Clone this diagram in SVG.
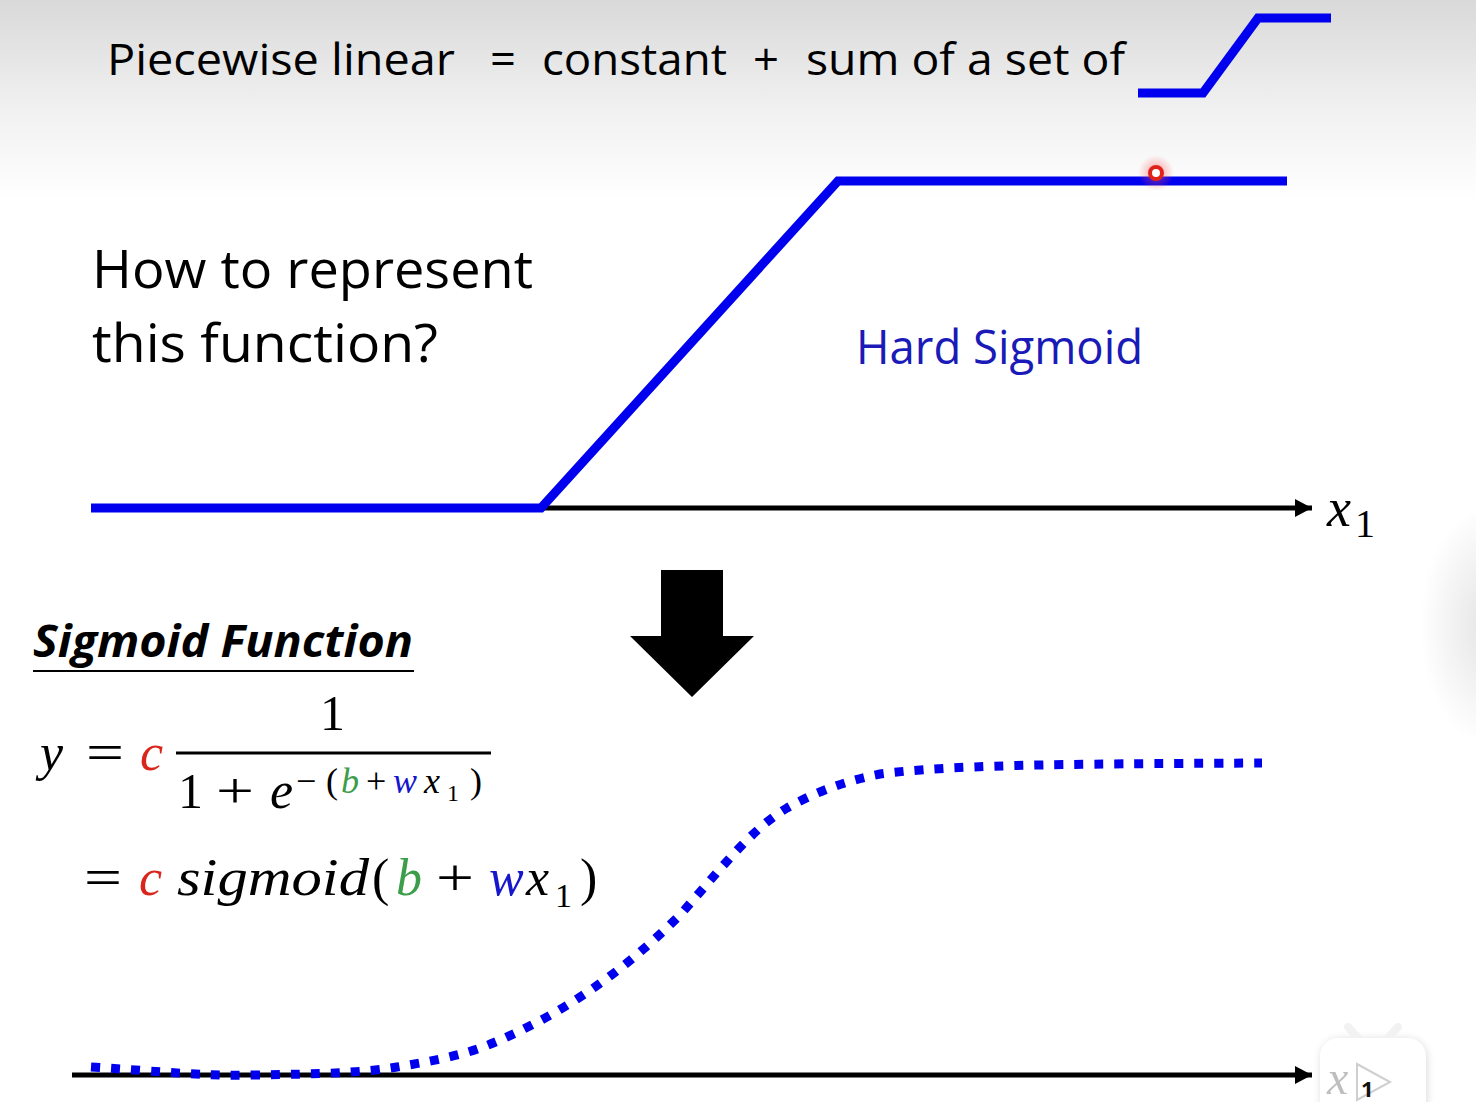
<svg xmlns="http://www.w3.org/2000/svg" width="1476" height="1102" viewBox="0 0 1476 1102">
<defs>
<linearGradient id="bg" x1="0" y1="0" x2="0" y2="1">
<stop offset="0" stop-color="#d9d9d9"/>
<stop offset="0.55" stop-color="#f1f1f1"/>
<stop offset="1" stop-color="#ffffff"/>
</linearGradient>
<radialGradient id="glow">
<stop offset="0" stop-color="#ff5050" stop-opacity="0.55"/>
<stop offset="1" stop-color="#ff5050" stop-opacity="0"/>
</radialGradient>
<radialGradient id="edge">
<stop offset="0" stop-color="#b0b0b0" stop-opacity="0.35"/>
<stop offset="1" stop-color="#b0b0b0" stop-opacity="0"/>
</radialGradient>
<filter id="sh" x="-30%" y="-30%" width="160%" height="160%">
<feGaussianBlur stdDeviation="5"/>
</filter>
<marker id="ah" markerUnits="userSpaceOnUse" markerWidth="20" markerHeight="20" refX="17" refY="10" orient="auto">
<path d="M0,1 L17,10 L0,19 Z" fill="#000"/>
</marker>
</defs>
<style>
.sans{font-family:"Open Sans","Noto Sans","Liberation Sans",sans-serif;}
.math{font-family:"Liberation Serif","DejaVu Serif",serif;font-style:italic;}
.up{font-family:"Liberation Serif","DejaVu Serif",serif;font-style:normal;}
.hs{fill:none;stroke:#0000ee;stroke-width:9;stroke-linejoin:miter;}
.axis{stroke:#000;stroke-width:5;marker-end:url(#ah);}
.red{fill:#d9261c;}
.green{fill:#3c9d4a;}
.blue{fill:#1616cc;}
</style>
<rect x="0" y="0" width="1476" height="1102" fill="#fff"/>
<rect x="0" y="0" width="1476" height="200" fill="url(#bg)"/>
<ellipse cx="1490" cy="625" rx="70" ry="120" fill="url(#edge)"/>

<g id="header">
<text class="sans" font-size="44" fill="#000" y="75">
<tspan x="107" textLength="348" lengthAdjust="spacingAndGlyphs">Piecewise linear</tspan>
<tspan x="490" textLength="26" lengthAdjust="spacingAndGlyphs">=</tspan>
<tspan x="542" textLength="185" lengthAdjust="spacingAndGlyphs">constant</tspan>
<tspan x="753" textLength="26" lengthAdjust="spacingAndGlyphs">+</tspan>
<tspan x="806" textLength="319" lengthAdjust="spacingAndGlyphs">sum of a set of</tspan>
</text>
<polyline points="1138,93 1203,93 1258,18 1331,18" fill="none" stroke="#0000ee" stroke-width="9"/>
</g>

<g id="question">
<text class="sans" font-size="53" fill="#000">
<tspan x="92" y="288" textLength="441" lengthAdjust="spacingAndGlyphs">How to represent</tspan>
<tspan x="92" y="362" textLength="346" lengthAdjust="spacingAndGlyphs">this function?</tspan>
</text>
</g>

<g id="connectors">
<line class="axis" x1="541" y1="508" x2="1312" y2="508"/>
<line class="axis" x1="72" y1="1075" x2="1312" y2="1075"/>
</g>

<g id="hard-sigmoid">
<polyline class="hs" points="91,508 541,508 838,181 1287,181"/>
<text class="sans" font-size="47" fill="#1a1ab8" x="856" y="364" textLength="287" lengthAdjust="spacingAndGlyphs">Hard Sigmoid</text>
</g>

<g id="x1-top">
<text class="math" font-size="54" x="1327" y="526">x</text>
<text class="up" font-size="40" x="1355" y="537">1</text>
</g>

<g id="pointer">
<circle cx="1156" cy="173" r="18" fill="url(#glow)"/>
<circle cx="1156" cy="173" r="6" fill="#fff" stroke="#e0231a" stroke-width="4"/>
</g>

<g id="down-arrow">
<polygon points="661,570 723,570 723,636 754,636 692,697 630,636 661,636" fill="#000"/>
</g>

<g id="sigmoid-title">
<text class="sans" font-size="45" font-weight="bold" font-style="italic" fill="#000" x="33" y="657" textLength="380" lengthAdjust="spacingAndGlyphs">Sigmoid Function</text>
<line x1="33" y1="671" x2="414" y2="671" stroke="#000" stroke-width="2"/>
</g>

<g id="formula">
<text class="math" font-size="52" x="40" y="770">y</text>
<text class="up" font-size="52" x="86" y="770" textLength="38" lengthAdjust="spacingAndGlyphs">=</text>
<text class="math red" font-size="52" x="140" y="770">c</text>
<text class="up" font-size="50" x="320" y="730">1</text>
<line x1="176" y1="753" x2="491" y2="753" stroke="#000" stroke-width="3"/>
<text class="up" font-size="50" x="178" y="808">1</text>
<text class="up" font-size="50" x="216" y="808" textLength="38" lengthAdjust="spacingAndGlyphs">+</text>
<text class="math" font-size="52" x="270" y="808">e</text>
<text class="up" font-size="36" x="296" y="793">−</text>
<text class="up" font-size="36" x="326" y="793">(</text>
<text class="math green" font-size="36" x="341" y="793">b</text>
<text class="up" font-size="36" x="366" y="793">+</text>
<text class="math blue" font-size="36" x="393" y="793">w</text>
<text class="math" font-size="36" x="424" y="793">x</text>
<text class="up" font-size="24" x="447" y="801">1</text>
<text class="up" font-size="36" x="470" y="793">)</text>

<text class="up" font-size="52" x="84" y="895" textLength="38" lengthAdjust="spacingAndGlyphs">=</text>
<text class="math red" font-size="52" x="139" y="895">c</text>
<text class="math" font-size="52" x="177" y="895" textLength="192" lengthAdjust="spacingAndGlyphs">sigmoid</text>
<text class="up" font-size="52" x="372" y="895">(</text>
<text class="math green" font-size="52" x="396" y="895">b</text>
<text class="up" font-size="52" x="436" y="895" textLength="38" lengthAdjust="spacingAndGlyphs">+</text>
<text class="math blue" font-size="52" x="489" y="895">w</text>
<text class="math" font-size="52" x="526" y="895">x</text>
<text class="up" font-size="34" x="555" y="907">1</text>
<text class="up" font-size="52" x="580" y="895">)</text>
</g>

<g id="sigmoid-curve">
<path d="M91,1067 C170,1072 200,1076 253,1075 C320,1074 360,1073 397,1067 C440,1060 470,1053 493,1043 C560,1015 620,975 680,915 C720,870 750,830 787,808 C810,795 840,782 880,774 C950,765 1050,764 1262,763" fill="none" stroke="#0000ee" stroke-width="9" stroke-dasharray="9 11"/>
</g>

<g id="watermark">
<rect x="1322" y="1040" width="104" height="80" rx="18" fill="#000" opacity="0.18" filter="url(#sh)"/>
<line x1="1348" y1="1027" x2="1360" y2="1040" stroke="#f2f2f2" stroke-width="8" stroke-linecap="round"/>
<line x1="1398" y1="1027" x2="1386" y2="1040" stroke="#f2f2f2" stroke-width="8" stroke-linecap="round"/>
<rect x="1320" y="1038" width="106" height="80" rx="18" fill="#fff"/>
<text class="math" font-size="48" fill="#000" opacity="0.25" x="1327" y="1094">x</text>
<path d="M1357,1064 L1390,1082 L1357,1100 Z" fill="#fff" stroke="#cfcfcf" stroke-width="2"/>
<text class="sans" font-size="22" font-weight="bold" fill="#111" x="1361" y="1097">1</text>
</g>
</svg>
